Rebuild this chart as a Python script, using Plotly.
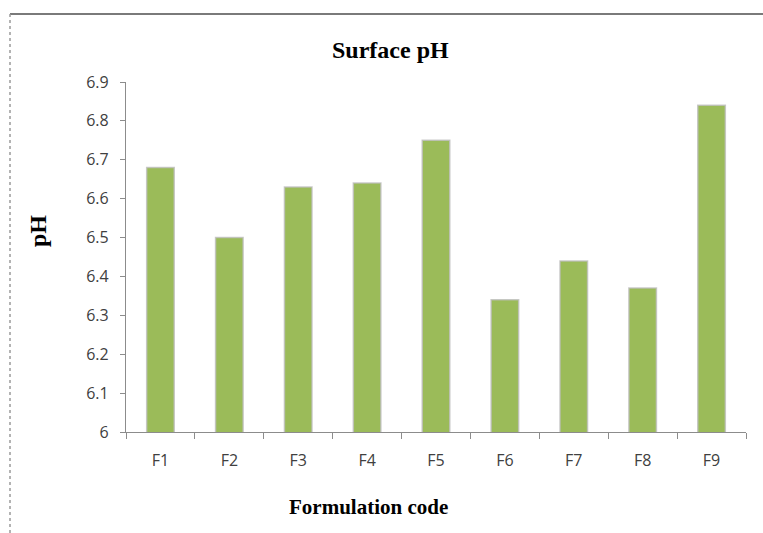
import plotly.graph_objects as go

# Surface pH of each formulation
formulations = ["F1", "F2", "F3", "F4", "F5", "F6", "F7", "F8", "F9"]
surface_ph = [6.68, 6.50, 6.63, 6.64, 6.75, 6.34, 6.44, 6.37, 6.84]
y_ticks = [6.0, 6.1, 6.2, 6.3, 6.4, 6.5, 6.6, 6.7, 6.8, 6.9]
y_tick_text = ["6", "6.1", "6.2", "6.3", "6.4", "6.5", "6.6", "6.7", "6.8", "6.9"]

W, H = 763, 533
L, R, T, B = 126, 17, 82, 101
pw, ph = W - L - R, H - T - B


def px_x(x):
    return (x - L) / pw


def px_y(y):
    return (H - B - y) / ph


fig = go.Figure()
fig.add_trace(go.Bar(
    x=formulations,
    y=surface_ph,
    base=0,
    width=0.4,
    marker=dict(color="#9BBB59", line=dict(color="rgba(190,190,190,0.8)", width=1.5)),
    hoverinfo="x+y",
))

label_font = dict(family="Open Sans", size=16, color="#404040")
serif = "Liberation Serif"

fig.update_layout(
    width=W, height=H,
    margin=dict(l=L, r=R, t=T, b=B),
    paper_bgcolor="white",
    plot_bgcolor="white",
    showlegend=False,
    bargap=0.6,
    xaxis=dict(
        type="category",
        showline=True, linecolor="#8c8c8c", linewidth=1.2,
        ticks="outside", ticklen=6, tickcolor="#8c8c8c", tickson="boundaries",
        tickfont=label_font, ticklabelstandoff=14,
        showgrid=False, zeroline=False,
    ),
    yaxis=dict(
        range=[6.0, 6.9],
        tickvals=y_ticks, ticktext=y_tick_text,
        showline=True, linecolor="#8c8c8c", linewidth=1.2,
        ticks="outside", ticklen=5, tickcolor="#8c8c8c",
        tickfont=label_font, ticklabelstandoff=8,
        showgrid=False, zeroline=False,
    ),
)

# chart title and axis titles
common = dict(xref="paper", yref="paper", showarrow=False, xanchor="center", yanchor="middle")
fig.add_annotation(text="<b>Surface pH</b>", x=px_x(390), y=px_y(50),
                   font=dict(family=serif, size=24, color="black"), **common)
fig.add_annotation(text="<b>Formulation code</b>", x=px_x(368), y=px_y(507),
                   font=dict(family=serif, size=21, color="black"), **common)
fig.add_annotation(text="<b>pH</b>", x=px_x(38), y=px_y(231), textangle=-90,
                   font=dict(family=serif, size=24, color="black"), **common)

# outer frame: top and left border of the chart area
fx0 = px_x(10)
fy1 = px_y(14)
fig.add_shape(type="line", xref="paper", yref="paper",
              x0=fx0, x1=px_x(W), y0=fy1, y1=fy1,
              line=dict(color="#7a7a7a", width=2))
fig.add_shape(type="line", xref="paper", yref="paper",
              x0=fx0, x1=fx0, y0=fy1, y1=px_y(H),
              line=dict(color="#9a9a9a", width=1.5, dash="dot"))

fig.write_html("out.html")
